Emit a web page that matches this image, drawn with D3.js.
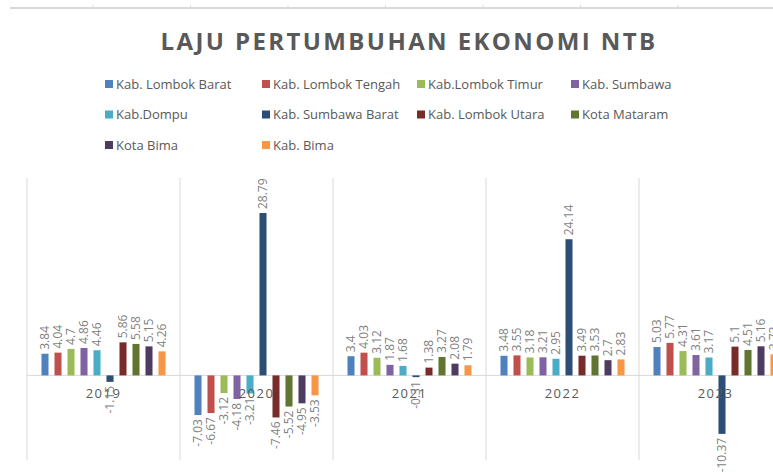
<!DOCTYPE html>
<html>
<head>
<meta charset="utf-8">
<script src="https://cdn.jsdelivr.net/npm/d3@7"></script>
<style>
  html, body { margin: 0; padding: 0; background: #fff; overflow: hidden; }
  text { font-family: "Open Sans", "Liberation Sans", sans-serif; }
</style>
</head>
<body>
<div id="chart"></div>
<script>
// tahun (kategori)
var years = ["2019", "2020", "2021", "2022", "2023"];

// nama kabupaten / kota (seri)
var regions = [
    "Kab. Lombok Barat", "Kab. Lombok Tengah", "Kab.Lombok Timur", "Kab. Sumbawa",
    "Kab.Dompu", "Kab. Sumbawa Barat", "Kab. Lombok Utara", "Kota Mataram",
    "Kota Bima", "Kab. Bima"
];

var colors = [
    "#4F81BD", "#C0504D", "#9BBB59", "#8064A2", "#4BACC6",
    "#2C4D75", "#772C2A", "#5F7530", "#4D3B62", "#F79646"
];

// laju pertumbuhan per seri, urut sesuai tahun
var lombokBarat   = [3.84, -7.03, 3.4, 3.48, 5.03];
var lombokTengah  = [4.04, -6.67, 4.03, 3.55, 5.77];
var lombokTimur   = [4.7, -3.12, 3.12, 3.18, 4.31];
var sumbawa       = [4.86, -4.18, 1.87, 3.21, 3.61];
var dompu         = [4.46, -3.21, 1.68, 2.95, 3.17];
var sumbawaBarat  = [-1.15, 28.79, -0.31, 24.14, -10.37];
var lombokUtara   = [5.86, -7.46, 1.38, 3.49, 5.1];
var kotaMataram   = [5.58, -5.52, 3.27, 3.53, 4.51];
var kotaBima      = [5.15, -4.95, 2.08, 2.7, 5.16];
var kabBima       = [4.26, -3.53, 1.79, 2.83, 3.73];

var seriesValues = [lombokBarat, lombokTengah, lombokTimur, sumbawa, dompu,
    sumbawaBarat, lombokUtara, kotaMataram, kotaBima, kabBima];

var W = 800, H = 476;
var plot = { left: 27, right: 792, top: 178, bottom: 460 };

var svg = d3.select("#chart").append("svg")
    .attr("width", W)
    .attr("height", H);

// garis sumbu dari grafik di atasnya (terpotong)
svg.append("line")
    .attr("x1", 10).attr("x2", W)
    .attr("y1", 8).attr("y2", 8)
    .attr("stroke", "#d9d9d9").attr("stroke-width", 2);
var topTicks = d3.range(0, 8).map(function (i) { return 93 + i * 97.5; });
svg.selectAll(".topTick").data(topTicks).enter().append("line")
    .attr("x1", function (d) { return d; }).attr("x2", function (d) { return d; })
    .attr("y1", 5).attr("y2", 8)
    .attr("stroke", "#d9d9d9");

//Title
svg.append("text")
    .attr("x", 409).attr("y", 50)
    .attr("text-anchor", "middle")
    .attr("fill", "#595959")
    .style("font-size", "24px")
    .style("font-weight", "bold")
    .style("letter-spacing", "2.4px")
    .text("LAJU PERTUMBUHAN EKONOMI NTB");

//Legend
var legendCols = [105, 262, 417, 571];
var legend = svg.selectAll(".legend").data(regions).enter().append("g")
    .attr("transform", function (d, i) {
        return "translate(" + legendCols[i % 4] + "," + (84 + Math.floor(i / 4) * 30.5) + ")";
    });
legend.append("rect")
    .attr("x", 0).attr("y", -4)
    .attr("width", 8).attr("height", 8)
    .attr("fill", function (d, i) { return colors[i]; });
legend.append("text")
    .attr("x", 11).attr("y", 0)
    .attr("dy", "0.35em")
    .attr("fill", "#595959")
    .style("font-size", "13px")
    .text(function (d) { return d; });

//Scales
var x0 = d3.scaleBand()
    .domain(years)
    .range([plot.left, plot.right]);

var x1 = d3.scaleBand()
    .domain(d3.range(regions.length))
    .range([11.5, x0.bandwidth() - 11.5])
    .paddingInner(0.46)
    .paddingOuter(0.23);

var y = d3.scaleLinear()
    .domain([-15, 35])
    .range([plot.bottom, plot.top]);

// garis pemisah kategori
var seps = years.map(function (d) { return x0(d); }).concat([plot.right]);
svg.selectAll(".sep").data(seps).enter().append("line")
    .attr("x1", function (d) { return d; }).attr("x2", function (d) { return d; })
    .attr("y1", plot.top).attr("y2", plot.bottom)
    .attr("stroke", "#d9d9d9");

// sumbu nol
svg.append("line")
    .attr("x1", plot.left).attr("x2", plot.right)
    .attr("y1", y(0)).attr("y2", y(0))
    .attr("stroke", "#d9d9d9");

//Bars
var rows = [];
seriesValues.forEach(function (vals, s) {
    vals.forEach(function (v, k) {
        rows.push({ year: years[k], s: s, value: v });
    });
});

svg.selectAll(".bar").data(rows).enter().append("rect")
    .attr("x", function (d) { return x0(d.year) + x1(d.s); })
    .attr("width", x1.bandwidth())
    .attr("y", function (d) { return y(Math.max(0, d.value)); })
    .attr("height", function (d) { return Math.abs(y(d.value) - y(0)); })
    .attr("fill", function (d) { return colors[d.s]; });

//Category labels
svg.selectAll(".cat").data(years).enter().append("text")
    .attr("x", function (d) { return x0(d) + x0.bandwidth() / 2; })
    .attr("y", y(0) + 23)
    .attr("text-anchor", "middle")
    .attr("fill", "#595959")
    .style("font-size", "13px")
    .style("letter-spacing", "1.5px")
    .text(function (d) { return d; });

//Data labels
svg.selectAll(".lbl").data(rows).enter().append("text")
    .attr("transform", function (d) {
        var cx = x0(d.year) + x1(d.s) + x1.bandwidth() / 2;
        var cy = d.value >= 0 ? y(d.value) - 4 : y(d.value) + 4;
        return "translate(" + cx + "," + cy + ") rotate(-90)";
    })
    .attr("text-anchor", function (d) { return d.value >= 0 ? "start" : "end"; })
    .attr("dy", "0.35em")
    .attr("fill", "#7f7f7f")
    .style("font-size", "12px")
    .text(function (d) { return d.value; });
</script>
</body>
</html>
